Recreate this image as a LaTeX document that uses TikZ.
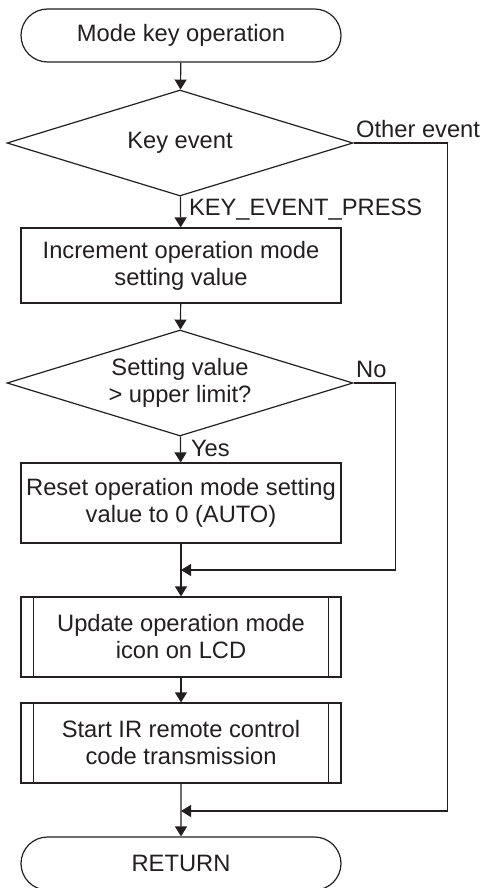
\documentclass[tikz,border=0pt]{standalone}
\usepackage{fontspec}
\setmainfont{Liberation Sans}
\usepackage{xcolor}
\definecolor{inkgray}{RGB}{35, 31, 32}
\usepackage{tikz}
\usetikzlibrary{shapes.geometric, shapes.misc, arrows.meta, positioning, calc}

\tikzset{
    flowline/.style={draw=inkgray, line width=1.2pt},
    flowarrow/.style={flowline, -{Triangle[length=10pt, width=12pt]}},
    terminal/.style={rounded rectangle, flowline, minimum width=320pt, minimum height=53pt, inner sep=0pt},
    process/.style={rectangle, flowline, minimum width=320pt, minimum height=80pt, inner sep=0pt, align=center},
    decision/.style={diamond, aspect=3.26, flowline, minimum width=346pt, minimum height=106pt, inner sep=0pt, align=center},
    edgelabel/.style={inner sep=2pt, text=inkgray}
}

\begin{document}
\begin{tikzpicture}[x=1pt, y=-1pt, font=\fontsize{23.7}{27}\selectfont, text=inkgray]
        \useasboundingbox (0,0) rectangle (486,888);

        \node[terminal] (start) at (181, 35.5) {Mode key operation};
        \node[decision] (keyevt) at (180, 143) {Key event};
        \node[process, minimum height=75pt] (incr) at (181, 265.5) {Increment operation mode\\setting value};
        \node[decision] (limit) at (180, 383) {Setting value\\> upper limit?};
        \node[process] (reset) at (181, 503) {Reset operation mode setting\\value to 0 (AUTO)};
        \node[process] (updlcd) at (181, 637) {Update operation mode\\icon on LCD};
        \node[process] (irstart) at (181, 743) {Start IR remote control\\code transmission};
        \node[terminal] (ret) at (181, 863.5) {RETURN};

        % sub-routine bars
        \draw[flowline] ([xshift=13pt]updlcd.north west) -- ([xshift=13pt]updlcd.south west);
        \draw[flowline] ([xshift=-13pt]updlcd.north east) -- ([xshift=-13pt]updlcd.south east);
        \draw[flowline] ([xshift=13pt]irstart.north west) -- ([xshift=13pt]irstart.south west);
        \draw[flowline] ([xshift=-13pt]irstart.north east) -- ([xshift=-13pt]irstart.south east);

        \coordinate (join1) at (181, 570);
        \coordinate (join2) at (181, 811);

        \draw[flowarrow] (start) -- (keyevt);
        \draw[flowarrow] (keyevt) -- (incr) node[pos=0, anchor=north west, edgelabel, xshift=6pt] {KEY\_EVENT\_PRESS};
        \draw[flowarrow] (incr) -- (limit);
        \draw[flowarrow] (limit) -- (reset) node[pos=0, anchor=north west, edgelabel, xshift=8pt, yshift=-1pt] {Yes};
        \draw[flowarrow] (reset) -- (updlcd);
        \draw[flowarrow] (updlcd) -- (irstart);
        \draw[flowarrow] (irstart) -- (ret);

        \draw[flowarrow] (limit.east) node[anchor=south west, edgelabel, yshift=3pt] {No} -- ++(42, 0) |- (join1);
        \draw[flowarrow] (keyevt.east) node[anchor=south west, edgelabel, yshift=3pt] {Other event} -- ++(94, 0) |- (join2);
    \end{tikzpicture}
\end{document}
